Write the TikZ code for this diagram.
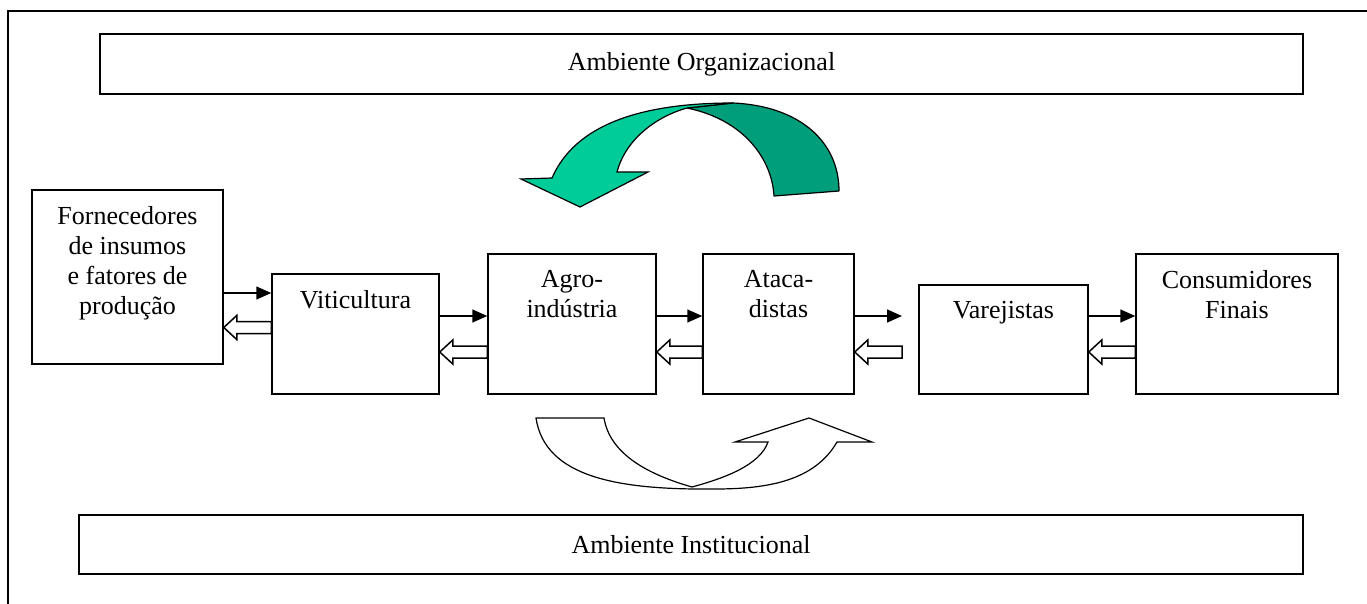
\documentclass[tikz,border=0pt]{standalone}
\usepackage{fontspec}
\setmainfont{Liberation Serif}
\usetikzlibrary{positioning,arrows.meta}

\definecolor{arcfront}{RGB}{0,204,153}
\definecolor{arcback}{RGB}{0,158,122}

\tikzset{
  box/.style={draw, line width=1.5pt, inner sep=0pt, font=\fontsize{26}{30}\selectfont},
  txt/.style={inner sep=0pt, align=center, font=\fontsize{26}{30}\selectfont},
  flow/.style={line width=1.5pt, -{Triangle[length=15pt,width=13pt]}},
  hollow/.style={line width=1.5pt, fill=white, line join=miter},
}

\newcommand{\backflow}[3]{%
  \path (#1 |- #3) coordinate (bf-tail) (#2 |- #3) coordinate (bf-tip);
  \draw[hollow] ([yshift=6pt]bf-tail) -- ([shift={(13pt,6pt)}]bf-tip)
    -- ([shift={(13pt,12pt)}]bf-tip) -- (bf-tip) -- ([shift={(13pt,-12pt)}]bf-tip)
    -- ([shift={(13pt,-6pt)}]bf-tip) -- ([yshift=-6pt]bf-tail) -- cycle;}

\begin{document}
\begin{tikzpicture}[x=1pt, y=-1pt]
        \useasboundingbox (0,0) rectangle (1367,604);
        \clip (0,0) rectangle (1367,604);
        \draw[line width=1.8pt] (8,620) -- (8,11) -- (1380,11);

        \node[box, minimum width=1203pt, minimum height=60pt] (org) at (701.5,64) {Ambiente Organizacional};
        \node[box, minimum width=1224pt, minimum height=59pt] (inst) at (691,544.5) {Ambiente Institucional};

        \node[box, minimum width=191pt, minimum height=174pt] (forn) at (127.5,277) {};
        \node[box, minimum width=167pt, minimum height=120pt] (viti) at (355.5,334) {};
        \node[box, minimum width=168pt, minimum height=140pt] (agro) at (572,324) {};
        \node[box, minimum width=151pt, minimum height=140pt] (atac) at (778.5,324) {};
        \node[box, minimum width=169pt, minimum height=109pt] (varej) at (1003.5,339.5) {};
        \node[box, minimum width=202pt, minimum height=140pt] (cons) at (1237,324) {};

        \node[txt, below=17pt of forn.north] {Fornecedores\\de insumos\\e fatores de\\produção};
        \node[txt, below=17pt of viti.north] {Viticultura};
        \node[txt, below=17pt of agro.north] {Agro-\\indústria};
        \node[txt, below=17pt of atac.north] {Ataca-\\distas};
        \node[txt, below=17pt of varej.north] {Varejistas};
        \node[txt, below=17pt of cons.north] {Consumidores\\Finais};

        \coordinate (r1) at (0,293);
        \coordinate (r2) at (0,327.5);
        \coordinate (r3) at (0,316);
        \coordinate (r4) at (0,352);
        \coordinate (gap) at (902,316);

        \draw[flow] (forn.east |- r1) -- (viti.west |- r1);
        \draw[flow] (viti.east |- r3) -- (agro.west |- r3);
        \draw[flow] (agro.east |- r3) -- (atac.west |- r3);
        \draw[flow] (atac.east |- r3) -- (gap);
        \draw[flow] (varej.east |- r3) -- (cons.west |- r3);

        \backflow{viti.west}{forn.east}{r2}
        \backflow{agro.west}{viti.east}{r4}
        \backflow{atac.west}{agro.east}{r4}
        \backflow{gap}{atac.east}{r4}
        \backflow{cons.west}{varej.east}{r4}

        \filldraw[fill=arcback, line width=1.2pt, line join=round] (687,108) -- (733,103) .. controls (800,106) and (839,142) .. (839,191)
            -- (774,196) .. controls (772,160) and (745,120) .. (687,108) -- cycle;
        \filldraw[fill=arcfront, line width=1.2pt, line join=miter] (580,207) -- (521,179) -- (552,178)
            .. controls (575,125) and (640,103) .. (733,103) -- (687,108)
            .. controls (658,116) and (626,138) .. (617,172) -- (648,172) -- cycle;

        \draw[fill=white, line width=1.2pt, line join=miter] (536,418) -- (604,418)
            .. controls (610,455) and (650,475) .. (692,487)
            .. controls (725,478) and (760,465) .. (768,442) -- (735,442) -- (809,418) -- (872,442) -- (837,442)
            .. controls (815,480) and (770,489) .. (715,489)
            .. controls (620,490) and (545,478) .. (536,418) -- cycle;
\end{tikzpicture}
\end{document}
